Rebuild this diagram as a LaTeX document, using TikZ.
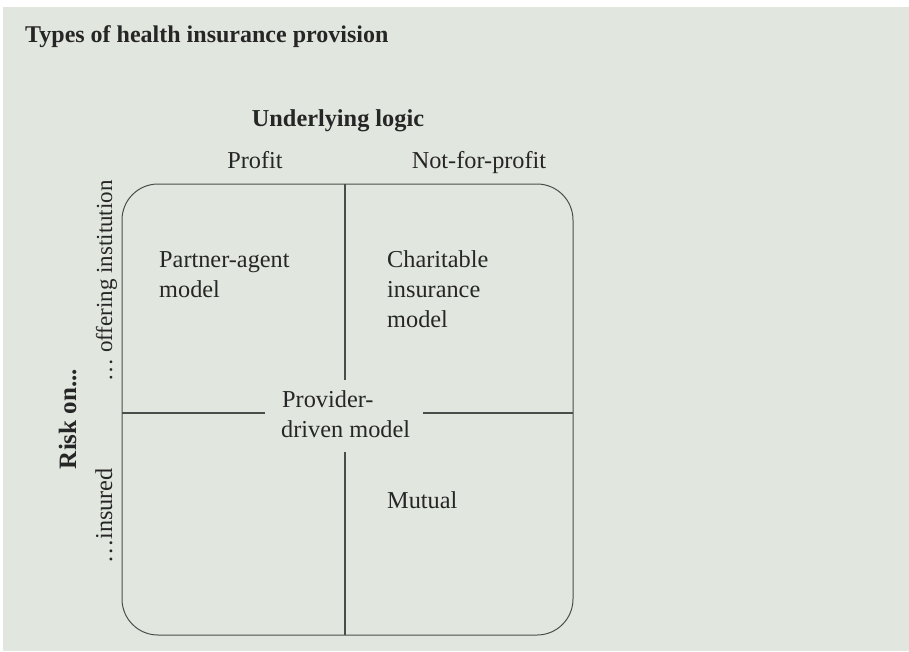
\documentclass[tikz,border=0pt]{standalone}
\usepackage{fontspec}
\setmainfont{Liberation Serif}
\definecolor{bg}{HTML}{E1E7DF}
\definecolor{ink}{HTML}{262626}
\definecolor{linec}{HTML}{4A4E4A}
\begin{document}
\begin{tikzpicture}[x=1pt,y=-1pt,
  txt/.style={font=\fontsize{24.3}{30}\selectfont, text=ink, inner sep=0pt},
  btxt/.style={font=\fontsize{24}{30}\selectfont\bfseries, text=ink, inner sep=0pt},
  frame/.style={draw=linec, line width=1pt, rounded corners=36pt},
  divider/.style={draw=linec, line width=1.1pt}]
\useasboundingbox (0,0) rectangle (909,651);
\fill[bg] (3,7) rectangle (909,651);

% title
\node[btxt, anchor=base west] (title) at (25,42) {Types of health insurance provision};

% axis headings
\node[btxt, font=\fontsize{24.3}{30}\selectfont\bfseries, anchor=base] (logic) at (338,126) {Underlying logic};
\node[txt, anchor=base] (profit) at (255,168) {Profit};
\node[txt, anchor=base] (nfp) at (479,168) {Not-for-profit};

\node[btxt, font=\fontsize{25}{30}\selectfont\bfseries, rotate=90, anchor=base] (risk) at (76,419) {Risk on...};
\node[txt, font=\fontsize{23}{30}\selectfont, rotate=90, anchor=base] (offer) at (112,281) {… offering institution};
\node[txt, rotate=90, anchor=base] (insured) at (112,516) {…insured};

% frame
\draw[frame] (122,184) rectangle (573,635);

% dividers
\coordinate (vt) at (345,184);
\coordinate (vtm) at (345,380);
\coordinate (vbm) at (345,452);
\coordinate (vb) at (345,635);
\coordinate (hl) at (122,413);
\coordinate (hlm) at (265,413);
\coordinate (hrm) at (423,413);
\coordinate (hr) at (573,413);
\draw[divider] (vt) -- (vtm);
\draw[divider] (vbm) -- (vb);
\draw[divider] (hl) -- (hlm);
\draw[divider] (hrm) -- (hr);

% quadrant labels
\node[txt, anchor=base west] (pa1) at (159,267) {Partner-agent};
\node[txt, anchor=base west] (pa2) at (159,297) {model};

\node[txt, anchor=base west] (ch1) at (387,267) {Charitable};
\node[txt, anchor=base west] (ch2) at (387,297) {insurance};
\node[txt, anchor=base west] (ch3) at (387,327) {model};

\node[txt, anchor=base west] (pd1) at (282,407) {Provider-};
\node[txt, anchor=base west] (pd2) at (281,437) {driven model};

\node[txt, anchor=base west] (mu) at (387,508) {Mutual};
\end{tikzpicture}
\end{document}
